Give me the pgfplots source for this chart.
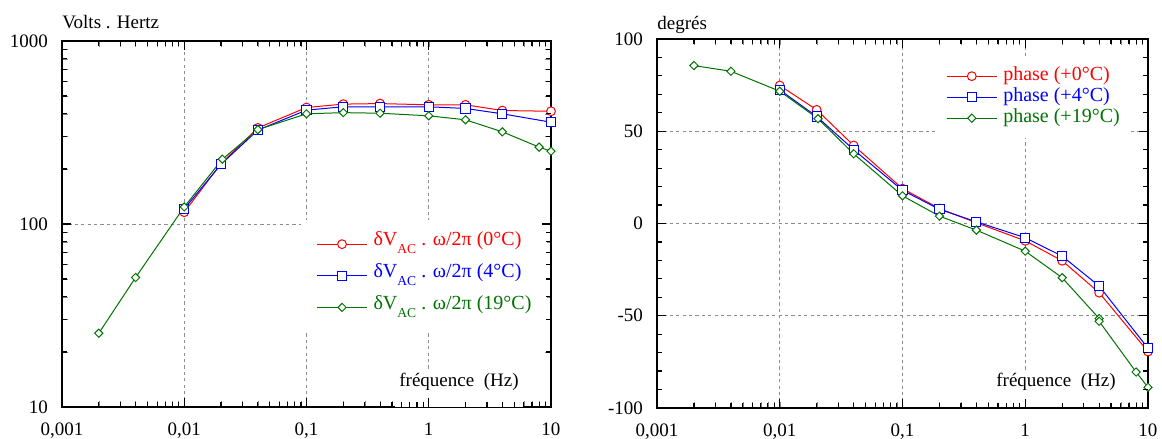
\documentclass[border=0pt]{standalone}
\usepackage{pgfplots}
\pgfplotsset{compat=1.18}
\usepackage{fontspec}
\setmainfont{Liberation Serif}
\definecolor{cred}{rgb}{1,0,0}
\definecolor{cblue}{rgb}{0,0,1}
\definecolor{cgreen}{rgb}{0,0.45,0}
\newcommand{\fs}{\fontsize{9.5}{11.4}\selectfont}
\newcommand{\fl}{\fontsize{10}{12}\selectfont}
\newcommand{\sub}{\raisebox{-4pt}{\fontsize{6.8}{7}\selectfont AC}}
\pgfplotsset{
  sr/.style={cred, line width=0.5pt, mark=*, mark size=2.2pt, mark options={solid, fill=white, line width=0.5pt}},
  sb/.style={cblue, line width=0.5pt, mark=square*, mark size=2.3pt, mark options={solid, fill=white, line width=0.5pt}},
  sg/.style={cgreen, line width=0.5pt, mark=square*, mark size=1.45pt, mark options={solid, fill=white, line width=0.5pt, rotate=45}},
}
\tikzset{tk/.style={draw=black, line width=0.6pt}}
\begin{document}
\begin{tikzpicture}
\useasboundingbox (0,0) rectangle (581pt,219.5pt);
% ---------- left ----------
\begin{axis}[name=L,
  scale only axis, anchor=south west,
  at={(31pt,16pt)}, width=244.5pt, height=183pt,
  xmode=log, xmin=0.001, xmax=10,
  ymode=log, ymin=10, ymax=1000,
  xtick={0.001,0.01,0.1,1,10},
  xticklabels={{0,001},{0,01},{0,1},{1},{10}},
  ytick={10,100,1000}, yticklabels={10,100,1000},
  major tick length=0pt,
  grid=major,
  major grid style={dash pattern=on 1.6pt off 1.6pt, gray!90, line width=0.45pt},
  axis line style={line width=0.8pt},
  tick label style={font=\fs},
  xticklabel style={yshift=-4.5pt},
  yticklabel style={xshift=-3.5pt},
  legend cell align=left,
  legend image code/.code={\draw[mark repeat=2,mark phase=2] plot coordinates {(0pt,0pt)(12.5pt,0pt)(25pt,0pt)};},
  legend style={at={(0.487,0.511)}, anchor=north west, draw=none, fill=white,
    font=\fl, inner xsep=8pt, inner ysep=6pt, row sep=4pt,
    nodes={inner sep=0pt, text height=6.8pt, text depth=5pt},
    /tikz/every odd column/.append style={column sep=3pt}},
]
\addplot[sr] coordinates {(0.01,116) (0.02,214) (0.04,335) (0.1,433) (0.2,452) (0.4,455) (1,448) (2,448) (4,417) (10,413)};
\addlegendentry{\textcolor{cred}{δV\sub\ . ω/2π (0°C)}}
\addplot[sb] coordinates {(0.01,121) (0.02,212) (0.04,326) (0.1,419) (0.2,437) (0.4,437) (1,437) (2,428) (4,400) (10,360)};
\addlegendentry{\textcolor{cblue}{δV\sub\ . ω/2π (4°C)}}
\addplot[sg] coordinates {(0.002,25.3) (0.004,51) (0.01,124) (0.0205,226) (0.04,328) (0.1,400) (0.2,406) (0.4,403) (1,390) (2,371) (4,319) (8,263) (10,250)};
\addlegendentry{\textcolor{cgreen}{δV\sub\ . ω/2π (19°C)}}
\node[anchor=base east, fill=white, inner xsep=2pt, inner ysep=1pt, text depth=9pt, font=\fs] at (rel axis cs:1,0) [xshift=-14pt, yshift=10pt] {fréquence\ \ (Hz)};
\end{axis}
\node[anchor=base west, inner sep=0pt, font=\fs] at ([yshift=6pt]L.north west) {Volts . Hertz};
% ticks of the left frame (axis box: x 31pt..275.5pt, y 16pt..199pt)
\foreach \d in {0,1,2,3}{
  \foreach \m in {2,3,4,5,6,7,8,9}{
    \pgfmathsetmacro\xx{31+61.125*(\d+log10(\m))}
    \draw[tk] (\xx pt,16pt) -- (\xx pt,18.6pt);
    \draw[tk] (\xx pt,199pt) -- (\xx pt,196.4pt);
  }
}
\foreach \d in {1,2,3}{
  \pgfmathsetmacro\xx{31+61.125*\d}
  \draw[tk] (\xx pt,16pt) -- (\xx pt,20.5pt);
  \draw[tk] (\xx pt,199pt) -- (\xx pt,194.5pt);
}
\foreach \d in {0,1}{
  \foreach \m in {2,3,4,5,6,7,8,9}{
    \pgfmathsetmacro\yy{16+91.5*(\d+log10(\m))}
    \draw[tk] (31pt,\yy pt) -- (33.6pt,\yy pt);
    \draw[tk] (275.5pt,\yy pt) -- (272.9pt,\yy pt);
  }
}
\draw[tk] (31pt,107.5pt) -- (35.5pt,107.5pt);
\draw[tk] (275.5pt,107.5pt) -- (271pt,107.5pt);
% ---------- right ----------
\begin{axis}[name=R,
  scale only axis, anchor=south west,
  at={(328.5pt,15.5pt)}, width=245.5pt, height=184.5pt,
  xmode=log, xmin=0.001, xmax=10,
  ymin=-100, ymax=100,
  xtick={0.001,0.01,0.1,1,10},
  xticklabels={{0,001},{0,01},{0,1},{1},{10}},
  ytick={-100,-50,0,50,100}, yticklabels={-100,-50,0,50,100},
  major tick length=0pt,
  grid=major,
  major grid style={dash pattern=on 1.6pt off 1.6pt, gray!90, line width=0.45pt},
  axis line style={line width=0.8pt},
  tick label style={font=\fs},
  xticklabel style={yshift=-4.5pt},
  yticklabel style={xshift=-3.5pt},
  legend cell align=left,
  legend image code/.code={\draw[mark repeat=2,mark phase=2] plot coordinates {(0pt,0pt)(12.5pt,0pt)(25pt,0pt)};},
  legend style={at={(0.566,0.954)}, anchor=north west, draw=none, fill=white,
    font=\fl, inner xsep=5.5pt, inner ysep=5.5pt, row sep=1.7pt,
    nodes={inner sep=0pt, text height=6.8pt, text depth=2pt},
    /tikz/every odd column/.append style={column sep=3pt}},
]
\addplot[sr] coordinates {(0.01,74.8) (0.02,61.6) (0.04,42.3) (0.1,18.9) (0.2,8.1) (0.4,0.4) (1,-9.4) (2,-20.2) (4,-37.5) (10,-69.4)};
\addlegendentry{\textcolor{cred}{phase (+0°C)}}
\addplot[sb] coordinates {(0.01,72.4) (0.02,58) (0.04,40) (0.1,18) (0.2,7.7) (0.4,0.9) (1,-7.7) (2,-17.7) (4,-33.9) (10,-67.6)};
\addlegendentry{\textcolor{cblue}{phase (+4°C)}}
\addplot[sg] coordinates {(0.002,85.6) (0.004,82.5) (0.01,71.7) (0.0205,56.8) (0.04,37.8) (0.1,15) (0.2,4) (0.4,-3.6) (1,-15) (2,-29.4) (4,-51.5) (4,-53) (8,-80.5) (10,-88.8)};
\addlegendentry{\textcolor{cgreen}{phase (+19°C)}}
\node[anchor=base east, fill=white, inner xsep=2pt, inner ysep=1pt, text depth=9pt, font=\fs] at (rel axis cs:1,0) [xshift=-14pt, yshift=10.5pt] {fréquence\ \ (Hz)};
\end{axis}
\node[anchor=base west, inner sep=0pt, font=\fs] at ([yshift=5pt]R.north west) {degrés};
% ticks of the right frame (axis box: x 328.5pt..574pt, y 15.5pt..200pt)
\foreach \d in {0,1,2,3}{
  \foreach \m in {2,3,4,5,6,7,8,9}{
    \pgfmathsetmacro\xx{328.5+61.375*(\d+log10(\m))}
    \draw[tk] (\xx pt,15.5pt) -- (\xx pt,18.1pt);
    \draw[tk] (\xx pt,200pt) -- (\xx pt,197.4pt);
  }
}
\foreach \d in {1,2,3}{
  \pgfmathsetmacro\xx{328.5+61.375*\d}
  \draw[tk] (\xx pt,15.5pt) -- (\xx pt,20pt);
  \draw[tk] (\xx pt,200pt) -- (\xx pt,195.5pt);
}
\foreach \v in {-90,-80,-70,-60,-40,-30,-20,-10,10,20,30,40,60,70,80,90}{
  \pgfmathsetmacro\yy{15.5+0.9225*(\v+100)}
  \draw[tk] (328.5pt,\yy pt) -- (331.1pt,\yy pt);
  \draw[tk] (574pt,\yy pt) -- (571.4pt,\yy pt);
}
\foreach \v in {-50,0,50}{
  \pgfmathsetmacro\yy{15.5+0.9225*(\v+100)}
  \draw[tk] (328.5pt,\yy pt) -- (333pt,\yy pt);
  \draw[tk] (574pt,\yy pt) -- (569.5pt,\yy pt);
}
\end{tikzpicture}
\end{document}
